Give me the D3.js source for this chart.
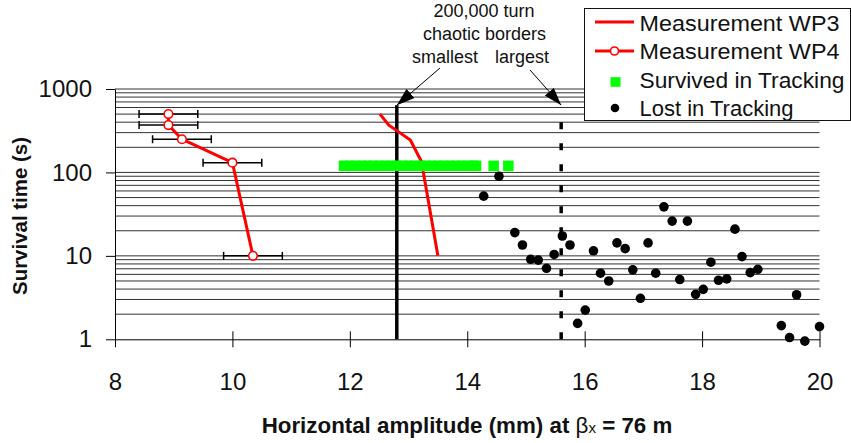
<!DOCTYPE html>
<html><head><meta charset="utf-8">
<script src="https://cdn.jsdelivr.net/npm/d3@7"></script>
<style>body{margin:0;background:#fff}svg{display:block}text{font-family:"Liberation Sans",Arial,sans-serif}</style>
</head><body><svg id="c" width="851" height="443"></svg>
<script>
// ---- data ----
const xTicks = [8, 10, 12, 14, 16, 18, 20];
const yTicks = [1, 10, 100, 1000];
const wp3X = [12.51, 12.66, 12.80, 13.03, 13.22, 13.50];
const wp3Y = [503, 371, 317, 245, 135, 10];
const wp4X = [8.91, 8.91, 9.14, 10.0, 10.35];
const wp4Y = [500, 370, 250, 131, 10];
const wp4Err = [0.5, 0.5, 0.5, 0.5, 0.5];
const survivedX = [11.9, 12.0, 12.1, 12.2, 12.3, 12.4, 12.5, 12.6, 12.7, 12.8, 12.9, 13.0, 13.1, 13.2, 13.3, 13.4, 13.5, 13.6, 13.7, 13.8, 13.9, 14.0, 14.1, 14.15, 14.45, 14.7];
const survivedY = [120, 120, 120, 120, 120, 120, 120, 120, 120, 120, 120, 120, 120, 120, 120, 120, 120, 120, 120, 120, 120, 120, 120, 120, 120, 120];
const lostX = [14.54, 14.28, 14.81, 14.94, 15.08, 15.21, 15.35, 15.48, 15.62, 15.75, 16.15, 16.01, 15.88, 16.27, 16.41, 16.55, 16.69, 16.82, 16.95, 17.08, 17.21, 17.35, 17.49, 17.62, 17.75, 17.89, 18.02, 18.15, 18.28, 18.42, 18.56, 18.68, 18.82, 18.95, 19.61, 19.35, 19.49, 19.75, 20.0];
const lostY = [90, 52, 19, 13.5, 9.1, 8.9, 7.1, 10.4, 17.3, 13.5, 11.5, 2.24, 1.55, 6.2, 5.0, 14.3, 12.2, 6.8, 3.1, 14.3, 6.2, 38.7, 26.1, 5.2, 26.1, 3.46, 3.97, 8.4, 5.1, 5.3, 20.9, 9.8, 6.3, 6.9, 3.42, 1.46, 1.05, 0.95, 1.42];
const borderX = [12.8, 15.6];      // smallest, largest chaotic border
const borderTop = 640;
const legendLabels = ["Measurement WP3", "Measurement WP4", "Survived in Tracking", "Lost in Tracking"];
const xTitle = "Horizontal amplitude (mm) at ";
const yTitle = "Survival time (s)";

// ---- scales ----
const svg = d3.select("#c");
const x = d3.scaleLinear().domain([8, 20]).range([115, 819.5]);
const y = d3.scaleLog().domain([1, 1000]).range([339.3, 89]);

// defs
svg.append("defs").append("marker")
  .attr("id", "ah").attr("viewBox", "0 0 18 12").attr("refX", 18).attr("refY", 6)
  .attr("markerWidth", 18).attr("markerHeight", 12).attr("markerUnits", "userSpaceOnUse")
  .attr("orient", "auto")
  .append("path").attr("d", "M0,0 L18,6 L0,12 Z").attr("fill", "#000");

// gridlines
svg.append("g").selectAll("line").data(y.ticks().filter(v => v > 1)).join("line")
  .attr("x1", x(8)).attr("x2", x(20))
  .attr("y1", d => y(d)).attr("y2", d => y(d))
  .attr("stroke", "#333").attr("stroke-width", 1);

// axes
const gx = svg.append("g").attr("transform", `translate(0,${y(1)})`)
  .call(d3.axisBottom(x).tickValues(xTicks).tickSize(8).tickSizeOuter(0).tickPadding(26));
gx.selectAll(".tick line").attr("y1", -8).attr("stroke", "#000");
gx.select(".domain").attr("stroke", "#000");
gx.selectAll("text").attr("font-size", 24).attr("font-family", "Liberation Sans, Arial, sans-serif").attr("fill", "#111");

const gy = svg.append("g").attr("transform", `translate(${x(8)},0)`)
  .call(d3.axisLeft(y).tickValues(yTicks).tickFormat(d3.format("d")).tickSize(9).tickSizeOuter(0).tickPadding(14));
gy.select(".domain").attr("stroke", "#000");
gy.selectAll(".tick line").attr("stroke", "#000");
gy.selectAll("text").attr("font-size", 24).attr("font-family", "Liberation Sans, Arial, sans-serif").attr("fill", "#111");

// chaotic border lines
svg.append("line").attr("x1", x(borderX[0])).attr("x2", x(borderX[0]))
  .attr("y1", y(1)).attr("y2", y(borderTop)).attr("stroke", "#000").attr("stroke-width", 3.5);
svg.append("line").attr("x1", x(borderX[1])).attr("x2", x(borderX[1]))
  .attr("y1", y(1)).attr("y2", y(borderTop) + 6).attr("stroke", "#000").attr("stroke-width", 3.5)
  .attr("stroke-dasharray", "7,14");

// WP3
const wp3 = wp3X.map((v, i) => [v, wp3Y[i]]);
const line = d3.line().x(d => x(d[0])).y(d => y(d[1]));
svg.append("path").datum(wp3).attr("d", line).attr("fill", "none")
  .attr("stroke", "#ff0000").attr("stroke-width", 3).attr("stroke-linejoin", "round");

// Survived (green squares)
const sq = 10.5;
svg.append("g").selectAll("rect").data(survivedX.map((v, i) => [v, survivedY[i]])).join("rect")
  .attr("x", d => x(d[0]) - sq / 2).attr("y", d => y(d[1]) - sq / 2)
  .attr("width", sq).attr("height", sq).attr("fill", "#00ff00");

// WP4 error bars
const wp4 = wp4X.map((v, i) => ({x: v, y: wp4Y[i], e: wp4Err[i]}));
const eb = svg.append("g").attr("stroke", "#000").attr("stroke-width", 1.5);
wp4.forEach(d => {
  const yy = y(d.y);
  eb.append("line").attr("x1", x(d.x - d.e)).attr("x2", x(d.x + d.e)).attr("y1", yy).attr("y2", yy);
  eb.append("line").attr("x1", x(d.x - d.e)).attr("x2", x(d.x - d.e)).attr("y1", yy - 4).attr("y2", yy + 4);
  eb.append("line").attr("x1", x(d.x + d.e)).attr("x2", x(d.x + d.e)).attr("y1", yy - 4).attr("y2", yy + 4);
});
svg.append("path").datum(wp4.map(d => [d.x, d.y])).attr("d", line).attr("fill", "none")
  .attr("stroke", "#ff0000").attr("stroke-width", 3).attr("stroke-linejoin", "round");
svg.append("g").selectAll("circle").data(wp4).join("circle")
  .attr("cx", d => x(d.x)).attr("cy", d => y(d.y)).attr("r", 4.3)
  .attr("fill", "#fff").attr("stroke", "#ff0000").attr("stroke-width", 1.6);

// Lost dots
svg.append("g").selectAll("circle").data(lostX.map((v, i) => [v, lostY[i]])).join("circle")
  .attr("cx", d => x(d[0])).attr("cy", d => y(d[1])).attr("r", 4.8).attr("fill", "#000");

// Annotations
const ann = svg.append("g").attr("font-size", 18).attr("fill", "#111").attr("text-anchor", "middle");
ann.append("text").attr("x", 484).attr("y", 17).text("200,000 turn");
ann.append("text").attr("x", 484.5).attr("y", 39.5).text("chaotic borders");
ann.append("text").attr("x", 445).attr("y", 63).text("smallest");
ann.append("text").attr("x", 522).attr("y", 63).text("largest");
svg.append("line").attr("x1", 440).attr("y1", 68).attr("x2", x(borderX[0])).attr("y2", y(borderTop))
  .attr("stroke", "#000").attr("stroke-width", 1).attr("marker-end", "url(#ah)");
svg.append("line").attr("x1", 530).attr("y1", 70).attr("x2", x(borderX[1])).attr("y2", y(borderTop))
  .attr("stroke", "#000").attr("stroke-width", 1).attr("marker-end", "url(#ah)");

// Legend
const lg = svg.append("g");
lg.append("rect").attr("x", 584.5).attr("y", 8.5).attr("width", 266).attr("height", 112)
  .attr("fill", "#fff").attr("stroke", "#111").attr("stroke-width", 1);
const rowsY = [22, 51, 82, 108];
const baseY = [31, 59.3, 87.5, 115.5];
const widths = [200, 200, 205, 154];
lg.append("line").attr("x1", 595).attr("x2", 634).attr("y1", rowsY[0]).attr("y2", rowsY[0])
  .attr("stroke", "#ff0000").attr("stroke-width", 3);
lg.append("line").attr("x1", 595).attr("x2", 634).attr("y1", rowsY[1]).attr("y2", rowsY[1])
  .attr("stroke", "#ff0000").attr("stroke-width", 3);
lg.append("circle").attr("cx", 614.5).attr("cy", rowsY[1]).attr("r", 4)
  .attr("fill", "#fff").attr("stroke", "#ff0000").attr("stroke-width", 1.6);
lg.append("rect").attr("x", 610.5).attr("y", rowsY[2] - 4.8).attr("width", 10).attr("height", 9.6).attr("fill", "#00ff00");
lg.append("circle").attr("cx", 615).attr("cy", rowsY[3]).attr("r", 4.3).attr("fill", "#000");
lg.selectAll("text.lt").data(legendLabels).join("text").attr("class", "lt")
  .attr("x", 639.5).attr("y", (d, i) => baseY[i]).attr("font-size", 22.5).attr("fill", "#111")
  .attr("textLength", (d, i) => widths[i]).attr("lengthAdjust", "spacingAndGlyphs").text(d => d);

// Axis titles
const xt = svg.append("text").attr("x", 467).attr("y", 433).attr("text-anchor", "middle")
  .attr("font-size", 22).attr("font-weight", "bold").attr("fill", "#111");
xt.append("tspan").text(xTitle);
xt.append("tspan").attr("font-weight", "normal").text("β");
xt.append("tspan").attr("font-size", "0.68em").attr("font-weight", "normal").text("x");
xt.append("tspan").text(" = 76 m");
// fit the title to the reference width by font size
const natW = xt.node().getComputedTextLength();
xt.attr("font-size", 22 * 411 / natW);

svg.append("text").attr("transform", "translate(27,216) rotate(-90)").attr("text-anchor", "middle")
  .attr("font-size", 20).attr("font-weight", "bold").attr("fill", "#111")
  .attr("textLength", 158).attr("lengthAdjust", "spacingAndGlyphs").text(yTitle);
</script></body></html>
